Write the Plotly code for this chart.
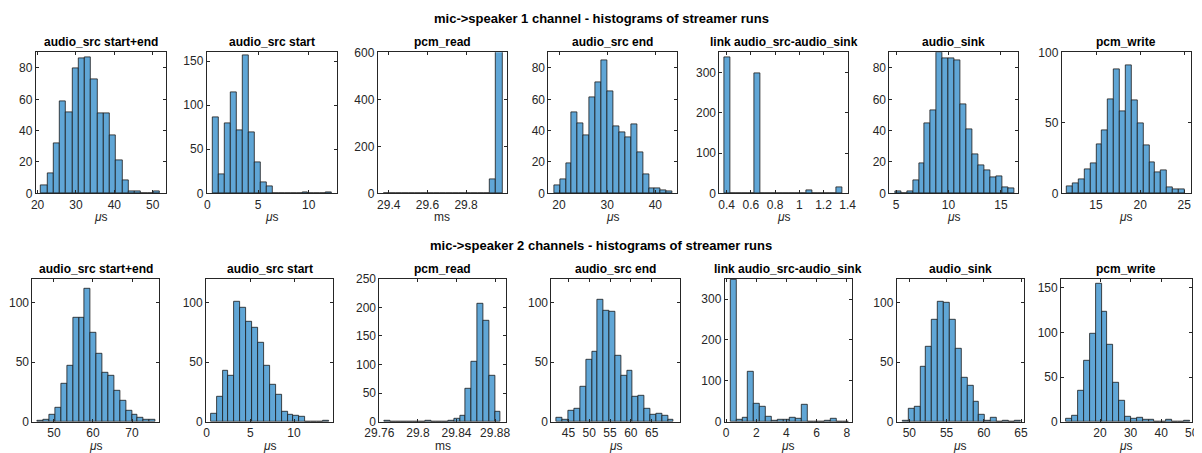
import plotly.graph_objects as go

W, H = 1202, 453
PAGE_MARGIN = 8  # the browser body margin shifts the figure by this much

# ---- data (bin start, bin width, counts) ----
# mic->speaker 1 channel
R1_START_END_BINS = (20.9, 1.63)
R1_START_END_COUNTS = [5, 13, 32, 59, 52, 80, 86, 87, 73, 51, 51, 37, 21, 8, 1, 1, 0, 0, 1]
R1_START_BINS = (0.5, 0.59)
R1_START_COUNTS = [86, 22, 79, 115, 72, 157, 69, 35, 13, 8, 0, 0, 0, 0, 0, 1, 0, 0, 0, 1]
R1_PCM_READ_BINS = (29.372, 0.0324)
R1_PCM_READ_COUNTS = [0, 0, 0, 0, 0, 0, 0, 0, 0, 0, 0, 0, 0, 0, 0, 0, 0, 60, 620]
R1_END_BINS = (18.96, 1.23)
R1_END_COUNTS = [5, 9, 19, 52, 45, 37, 61, 71, 85, 65, 43, 39, 36, 44, 26, 12, 3, 3, 2, 1]
R1_LINK_BINS = (0.383, 0.0485)
R1_LINK_COUNTS = [337, 0, 0, 0, 0, 297, 0, 0, 0, 0, 0, 0, 0, 0, 8, 0, 0, 0, 0, 16]
R1_SINK_BINS = (4.9, 0.568)
R1_SINK_COUNTS = [1, 0, 1, 8, 19, 45, 53, 90, 86, 86, 85, 57, 41, 25, 18, 15, 10, 11, 4, 3]
R1_PCM_WRITE_BINS = (11.7, 0.666)
R1_PCM_WRITE_COUNTS = [5, 7, 10, 17, 21, 35, 45, 67, 88, 58, 91, 66, 50, 34, 22, 15, 16, 4, 3, 3]

# mic->speaker 2 channels
R2_START_END_BINS = (45.8, 1.51)
R2_START_END_COUNTS = [1, 2, 6, 12, 32, 47, 87, 87, 112, 75, 57, 41, 39, 26, 18, 9, 6, 3, 2, 2]
R2_START_BINS = (0.46, 0.677)
R2_START_COUNTS = [7, 21, 43, 39, 101, 96, 84, 79, 66, 47, 31, 23, 8, 6, 5, 4, 0, 0, 0, 1]
R2_PCM_READ_BINS = (29.7652, 0.00603)
R2_PCM_READ_COUNTS = [1, 0, 0, 0, 0, 0, 0, 1, 0, 0, 0, 1, 5, 11, 58, 105, 207, 176, 80, 18]
R2_END_BINS = (42.2, 1.404)
R2_END_COUNTS = [3, 2, 9, 11, 29, 52, 59, 102, 93, 92, 55, 39, 43, 21, 22, 11, 6, 7, 5, 2]
R2_LINK_BINS = (0.29, 0.392)
R2_LINK_COUNTS = [347, 6, 11, 122, 43, 36, 13, 2, 5, 5, 11, 8, 41, 1, 1, 0, 3, 8, 0, 1]
R2_SINK_BINS = (49.1, 0.79)
R2_SINK_COUNTS = [1, 11, 13, 46, 63, 86, 101, 100, 86, 61, 37, 30, 17, 6, 1, 3, 0, 1, 0, 1]
R2_PCM_WRITE_BINS = (9.0, 1.92)
R2_PCM_WRITE_COUNTS = [3, 7, 35, 68, 99, 154, 123, 86, 44, 23, 6, 3, 4, 2, 2, 0, 0, 2, 0, 0, 1]

ROW_TITLES = [
    "mic->speaker 1 channel - histograms of streamer runs",
    "mic->speaker 2 channels - histograms of streamer runs",
]
PANEL_TITLES = ["audio_src start+end", "audio_src start", "pcm_read", "audio_src end",
                "link audio_src-audio_sink", "audio_sink", "pcm_write"]
US = "<i>\u03bc</i>s"

# per panel: counts, bins, x unit, x range, x ticks, x tick text, y range, y ticks
ROW1 = [
    (R1_START_END_COUNTS, R1_START_END_BINS, US, [19.5, 53.4], [20, 30, 40, 50], None, [0, 90], [0, 20, 40, 60, 80]),
    (R1_START_COUNTS, R1_START_BINS, US, [-0.06, 12.75], [0, 5, 10], None, [0, 160], [0, 50, 100, 150]),
    (R1_PCM_READ_COUNTS, R1_PCM_READ_BINS, "ms", [29.343, 30.01], [29.4, 29.6, 29.8], ["29.4", "29.6", "29.8"],
     [0, 600], [0, 200, 400, 600]),
    (R1_END_COUNTS, R1_END_BINS, US, [17.78, 44.43], [20, 30, 40], None, [0, 90], [0, 20, 40, 60, 80]),
    (R1_LINK_COUNTS, R1_LINK_BINS, US, [0.339, 1.405], [0.4, 0.6, 0.8, 1, 1.2, 1.4],
     ["0.4", "0.6", "0.8", "1", "1.2", "1.4"], [0, 350], [0, 100, 200, 300]),
    (R1_SINK_COUNTS, R1_SINK_BINS, US, [4.36, 16.65], [5, 10, 15], None, [0, 90], [0, 20, 40, 60, 80]),
    (R1_PCM_WRITE_COUNTS, R1_PCM_WRITE_BINS, US, [11.11, 25.76], [15, 20, 25], None, [0, 100], [0, 50, 100]),
]
ROW2 = [
    (R2_START_END_COUNTS, R2_START_END_BINS, US, [44.44, 77.0], [50, 60, 70], None, [0, 120], [0, 50, 100]),
    (R2_START_COUNTS, R2_START_BINS, US, [-0.08, 14.5], [0, 5, 10], None, [0, 120], [0, 50, 100]),
    (R2_PCM_READ_COUNTS, R2_PCM_READ_BINS, "ms", [29.76, 29.891], [29.76, 29.8, 29.84, 29.88],
     ["29.76", "29.8", "29.84", "29.88"], [0, 250], [0, 50, 100, 150, 200, 250]),
    (R2_END_COUNTS, R2_END_BINS, US, [40.9, 71.8], [45, 50, 55, 60, 65], None, [0, 120], [0, 50, 100]),
    (R2_LINK_COUNTS, R2_LINK_BINS, US, [-0.09, 8.33], [0, 2, 4, 6, 8], None, [0, 350], [0, 100, 200, 300]),
    (R2_SINK_COUNTS, R2_SINK_BINS, US, [48.3, 65.4], [50, 55, 60, 65], None, [0, 120], [0, 50, 100]),
    (R2_PCM_WRITE_COUNTS, R2_PCM_WRITE_BINS, US, [7.24, 50.0], [20, 30, 40, 50], None, [0, 160], [0, 50, 100, 150]),
]

# axes boxes in page pixels
ROW1_BOX_X = [(35.7, 165.7), (206.7, 336.7), (377.7, 506.7), (548.3, 676.7),
              (719.3, 848.3), (889.3, 1018.3), (1061.7, 1191.0)]
ROW2_BOX_X = [(32.3, 159.3), (206.0, 333.3), (379.3, 505.7), (551.3, 680.0),
              (724.7, 851.7), (896.7, 1024.0), (1061.0, 1191.7)]
ROW_BOX_Y = [(52.3, 193.3), (278.7, 421.7)]
ROW_TITLE_Y = [18, 245]
PANEL_TITLE_Y = [42, 269]
XLABEL_Y = [217, 446]

FONT = "Liberation Sans, Arial, sans-serif"
AX_COLOR = "#262626"
BAR_COLOR = "rgb(96,166,214)"

FW, FH = W - PAGE_MARGIN, H - PAGE_MARGIN


def px_x(v):
    return (v - PAGE_MARGIN) / FW


def px_y(v):
    return 1 - (v - PAGE_MARGIN) / FH


fig = go.Figure()
annotations = []
layout_axes = {}


def _add_panel(k, panel, box_x, box_y, title, label_y, title_y):
    counts, (start, width), unit, xr, xt, xtt, yr, yt = panel
    centers = [start + (i + 0.5) * width for i in range(len(counts))]
    fig.add_trace(go.Bar(
        x=centers, y=counts, width=width,
        marker=dict(color=BAR_COLOR, line=dict(color="#1a1a1a", width=0.8)),
        xaxis=f"x{k}", yaxis=f"y{k}", showlegend=False, hoverinfo="x+y",
    ))
    common = dict(
        ticks="inside", ticklen=3, tickcolor=AX_COLOR, showline=True, linecolor=AX_COLOR,
        linewidth=0.8, mirror="ticks", showgrid=False, zeroline=False,
        automargin=False, ticklabeloverflow="allow",
        tickfont=dict(family=FONT, size=12, color=AX_COLOR),
    )
    layout_axes[f"xaxis{k}"] = dict(
        domain=[px_x(box_x[0]), px_x(box_x[1])], range=xr, tickvals=xt,
        ticktext=xtt if xtt else [str(v) for v in xt], anchor=f"y{k}", **common)
    layout_axes[f"yaxis{k}"] = dict(
        domain=[px_y(box_y[1]), px_y(box_y[0])], range=yr, tickvals=yt,
        anchor=f"x{k}", **common)
    xc = px_x((box_x[0] + box_x[1]) / 2)
    annotations.append(dict(
        text=f"<b>{title}</b>", x=xc, y=px_y(title_y), xref="paper", yref="paper",
        showarrow=False, font=dict(family=FONT, size=12, color="black"),
        xanchor="center", yanchor="middle"))
    annotations.append(dict(
        text=unit, x=xc, y=px_y(label_y), xref="paper", yref="paper",
        showarrow=False, font=dict(family=FONT, size=12, color=AX_COLOR),
        xanchor="center", yanchor="middle"))


k = 1
for row, (panels, boxes) in enumerate([(ROW1, ROW1_BOX_X), (ROW2, ROW2_BOX_X)]):
    for panel, box_x, title in zip(panels, boxes, PANEL_TITLES):
        _add_panel(k, panel, box_x, ROW_BOX_Y[row], title, XLABEL_Y[row], PANEL_TITLE_Y[row])
        k += 1
    annotations.append(dict(
        text=f"<b>{ROW_TITLES[row]}</b>", x=px_x(W / 2), y=px_y(ROW_TITLE_Y[row]),
        xref="paper", yref="paper", showarrow=False,
        font=dict(family=FONT, size=13, color="black"), xanchor="center", yanchor="middle"))

fig.update_layout(
    width=FW, height=FH, margin=dict(l=0, r=0, t=0, b=0),
    paper_bgcolor="white", plot_bgcolor="white", bargap=0,
    annotations=annotations, **layout_axes,
)

fig.write_html("out.html")
